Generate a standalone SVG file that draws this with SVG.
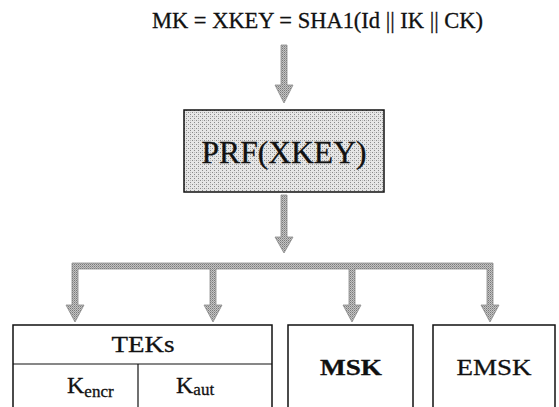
<svg xmlns="http://www.w3.org/2000/svg" width="559" height="407" viewBox="0 0 559 407">
<defs>
<pattern id="dots" width="4" height="4" patternUnits="userSpaceOnUse">
<rect width="4" height="4" fill="#e6e6e6"/>
<rect x="0" y="0" width="1" height="1" fill="#8a8a8a"/>
<rect x="2" y="2" width="1" height="1" fill="#8a8a8a"/>
<rect x="2" y="0" width="1" height="1" fill="#bbbbbb"/>
</pattern>
<pattern id="adots" width="2" height="2" patternUnits="userSpaceOnUse">
<rect width="2" height="2" fill="#c4c4c4"/>
<rect x="0" y="0" width="1" height="1" fill="#7a7a7a"/>
<rect x="1" y="1" width="1" height="1" fill="#9a9a9a"/>
</pattern>
</defs>
<style>
.t{font-family:"Liberation Serif","Times New Roman",serif;fill:#111;stroke:#111;stroke-width:0.3;}
.box{fill:#fff;stroke:#111;stroke-width:1.5;}
.arr{fill:url(#adots);stroke:#8c8c8c;stroke-width:0.8;}
</style>
<rect width="559" height="407" fill="#fff"/>
<g id="title">
<text class="t" x="152" y="28" font-size="23" textLength="331" lengthAdjust="spacingAndGlyphs">MK = XKEY = SHA1(Id || IK || CK)</text>
</g>
<g id="prf">
<rect x="184" y="110" width="200" height="82" fill="url(#dots)" stroke="#111" stroke-width="1.5"/>
<text class="t" x="284" y="163" font-size="31" text-anchor="middle" textLength="165" lengthAdjust="spacingAndGlyphs">PRF(XKEY)</text>
</g>
<g id="teks">
<rect class="box" x="13" y="325" width="259" height="90"/>
<line x1="13" y1="364" x2="272" y2="364" stroke="#111" stroke-width="1.2"/>
<line x1="138" y1="364" x2="138" y2="410" stroke="#111" stroke-width="1.2"/>
<text class="t" x="143" y="352" font-size="23" text-anchor="middle" textLength="63" lengthAdjust="spacingAndGlyphs">TEKs</text>
<text class="t" x="67" y="393" font-size="24">K<tspan font-size="17" dy="4">encr</tspan></text>
<text class="t" x="176" y="393" font-size="24">K<tspan font-size="17" dy="2">aut</tspan></text>
</g>
<g id="msk">
<rect class="box" x="288" y="325" width="125" height="90"/>
<text class="t" x="351" y="375" font-size="23" font-weight="bold" text-anchor="middle" textLength="62" lengthAdjust="spacingAndGlyphs">MSK</text>
</g>
<g id="emsk">
<rect class="box" x="433" y="325" width="122" height="90"/>
<text class="t" x="494" y="375" font-size="23" text-anchor="middle" textLength="75" lengthAdjust="spacingAndGlyphs">EMSK</text>
</g>
<g id="connectors">
<polygon class="arr" points="281,45 287,45 287,85 293,85 284,103 275,85 281,85"/>
<polygon class="arr" points="281,195 287,195 287,237 293,237 284,253 275,237 281,237"/>
<polygon class="arr" points="72,263 493,263 493,305 499,305 490,322 481,305 487,305 487,269 355,269 355,305 361,305 352,322 343,305 349,305 349,269 216,269 216,305 222,305 213,322 204,305 210,305 210,269 78,269 78,305 84,305 75,322 66,305 72,305"/>
</g>
</svg>
